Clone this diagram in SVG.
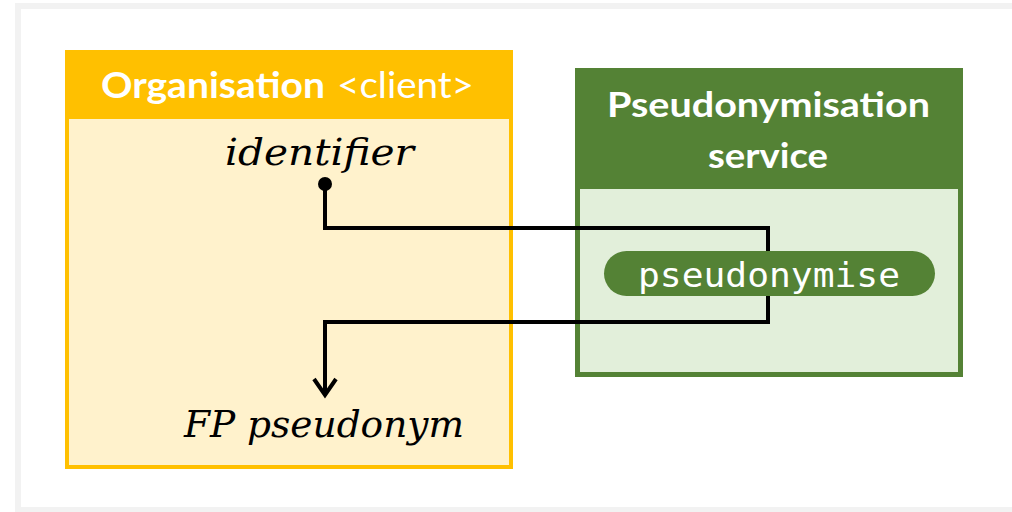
<svg xmlns="http://www.w3.org/2000/svg" width="1012" height="512" viewBox="0 0 1012 512">
<style>
.hdr{font-family:Lato,"Open Sans",sans-serif;fill:#fff}
.b{font-weight:bold}
.math{font-family:"DejaVu Serif",serif;font-style:italic;fill:#000;font-size:37px}
.mono{font-family:"DejaVu Sans Mono","Liberation Mono",monospace;fill:#fff;font-size:34px}
.conn{fill:none;stroke:#000;stroke-width:4}
</style>
<rect x="18" y="6" width="1000" height="504" fill="#fff" stroke="#f2f2f2" stroke-width="6"/>
<g id="organisation">
<rect x="65" y="50" width="448" height="419" fill="#FFC000"/>
<rect x="69" y="119" width="440" height="346" fill="#FFF2CC"/>
<text class="hdr b" x="101" y="98" font-size="37" textLength="224" lengthAdjust="spacingAndGlyphs">Organisation</text>
<text class="hdr" x="337" y="98" font-size="37" textLength="137" lengthAdjust="spacingAndGlyphs">&lt;client&gt;</text>
<text class="math" x="225" y="165" textLength="189" lengthAdjust="spacingAndGlyphs">identifier</text>
<text class="math" x="184" y="437" textLength="280" lengthAdjust="spacingAndGlyphs">FP pseudonym</text>
</g>
<g id="service">
<rect x="575" y="68" width="388" height="309" fill="#548235"/>
<rect x="580" y="189" width="378" height="183" fill="#E2EFDA"/>
<text class="hdr b" x="607" y="117" font-size="35" textLength="323" lengthAdjust="spacingAndGlyphs">Pseudonymisation</text>
<text class="hdr b" x="708" y="168" font-size="35" textLength="120" lengthAdjust="spacingAndGlyphs">service</text>
</g>
<g id="connectors">
<circle cx="325" cy="184" r="7" fill="#000"/>
<path class="conn" d="M325,184 V228 H768 V322 H325 V395"/>
<path class="conn" d="M314,379 L325,395 L336,379" stroke-linejoin="miter"/>
</g>
<g id="pseudonymise">
<rect x="604" y="251" width="331" height="45" rx="22.5" fill="#548235"/>
<text class="mono" x="638" y="287" textLength="262" lengthAdjust="spacingAndGlyphs">pseudonymise</text>
</g>
</svg>
